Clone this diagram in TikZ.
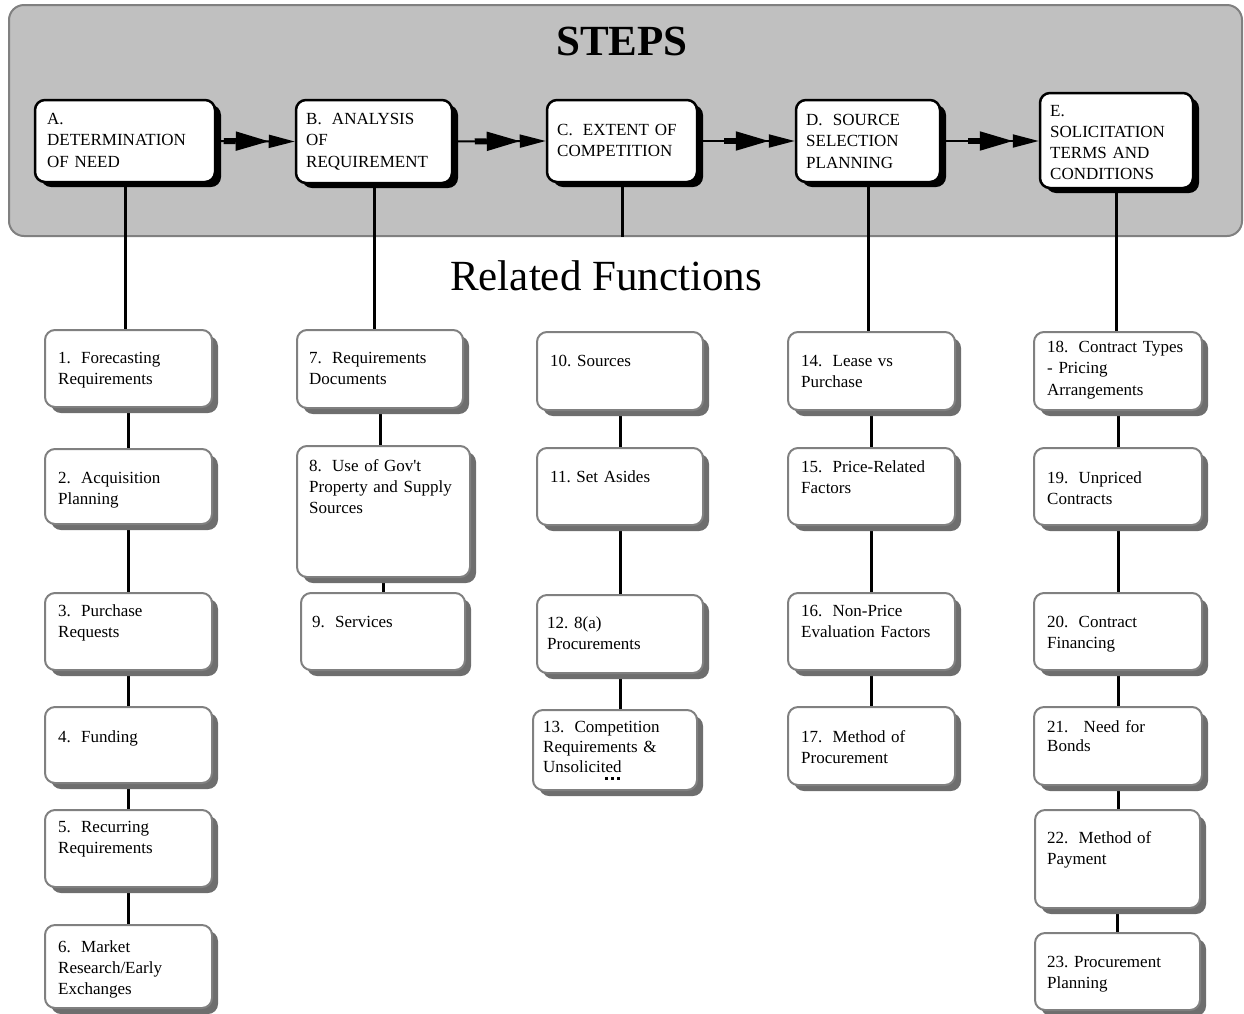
\documentclass[tikz,border=0pt]{standalone}
\usepackage{fontspec}
\setmainfont{Liberation Serif}[Ligatures=TeXOff]
\usetikzlibrary{arrows.meta,shadows,fit}
\definecolor{panelgray}{HTML}{C0C0C0}
\definecolor{edgegray}{HTML}{808080}
\definecolor{shgray}{HTML}{6E6E6E}
\pgfdeclarelayer{panel}
\pgfdeclarelayer{lines}
\pgfsetlayers{panel,lines,main}
\newcommand\gp{\hspace{0.6em}}
\frenchspacing
\begin{document}
\begin{tikzpicture}[x=1pt,y=-1pt,
  panelbox/.style={fill=panelgray,draw=edgegray,line width=2pt,rounded corners=15pt,inner sep=0pt},
  stepbox/.style={draw=black,fill=white,line width=2.5pt,rounded corners=10pt,inner sep=0pt,
    drop shadow={shadow xshift=6pt,shadow yshift=-5pt,fill=black,opacity=1}},
  fnbox/.style={draw=edgegray,fill=white,line width=2pt,rounded corners=10pt,inner sep=0pt,
    drop shadow={shadow xshift=6pt,shadow yshift=-6pt,fill=shgray,opacity=1}},
  lbl/.style={anchor=base west,inner sep=0pt,text width=220pt,align=left,
    font=\fontsize{17}{21.5}\selectfont},
  conn/.style={line width=3pt},
  steparrow/.style={line width=2pt,
    -{Rectangle[length=12pt,width=6pt,sep=0pt] Triangle[length=33pt,width=19pt,sep=0pt] Triangle[length=26pt,width=13pt,sep=0pt]}}
]
\useasboundingbox (0,0) rectangle (1244,1013);

\begin{pgfonlayer}{panel}
  \node[panelbox, fit={(9,5)(1242,236)}] (P) {};
\end{pgfonlayer}

\node[anchor=base,inner sep=0pt,font=\fontsize{43}{50}\selectfont\bfseries] (steps) at (622,55) {STEPS};
\node[anchor=base west,inner sep=0pt,font=\fontsize{43}{50}\selectfont] (rel) at (450,290) {Related Functions};

% step boxes
\node[stepbox, fit={(35,100)(215,182)}] (A) {};
\node[stepbox, fit={(296,100)(452,183)}] (B) {};
\node[stepbox, fit={(547,100)(697,182)}] (C) {};
\node[stepbox, fit={(796,100)(940,182)}] (D) {};
\node[stepbox, fit={(1040,93)(1193,188)}] (E) {};

\node[lbl] (tA) at (47,124) {A.\\DETERMINATION\\OF NEED};
\node[lbl] (tB) at (306,124) {B.\gp ANALYSIS\\OF\\REQUIREMENT};
\node[lbl] (tC) at (557,135) {C.\gp EXTENT OF\\COMPETITION};
\node[lbl] (tD) at (806,125) {D.\gp SOURCE\\SELECTION\\PLANNING};
\node[lbl,font=\fontsize{17}{21}\selectfont] (tE) at (1050,116) {E.\\SOLICITATION\\TERMS AND\\CONDITIONS};

% function boxes
\node[fnbox, fit={(45,330)(212,407)}] (f1) {};
\node[fnbox, fit={(45,449)(212,524)}] (f2) {};
\node[fnbox, fit={(45,593)(212,670)}] (f3) {};
\node[fnbox, fit={(45,707)(212,783)}] (f4) {};
\node[fnbox, fit={(45,810)(212,887)}] (f5) {};
\node[fnbox, fit={(45,925)(212,1008)}] (f6) {};
\node[fnbox, fit={(297,330)(463,408)}] (f7) {};
\node[fnbox, fit={(297,446)(470,577)}] (f8) {};
\node[fnbox, fit={(301,593)(465,670)}] (f9) {};
\node[fnbox, fit={(537,332)(703,410)}] (f10) {};
\node[fnbox, fit={(537,448)(703,525)}] (f11) {};
\node[fnbox, fit={(537,595)(703,673)}] (f12) {};
\node[fnbox, fit={(533,710)(697,790)}] (f13) {};
\node[fnbox, fit={(788,332)(955,410)}] (f14) {};
\node[fnbox, fit={(788,448)(955,525)}] (f15) {};
\node[fnbox, fit={(788,593)(955,670)}] (f16) {};
\node[fnbox, fit={(788,707)(955,785)}] (f17) {};
\node[fnbox, fit={(1034,332)(1202,410)}] (f18) {};
\node[fnbox, fit={(1034,448)(1202,525)}] (f19) {};
\node[fnbox, fit={(1034,593)(1202,670)}] (f20) {};
\node[fnbox, fit={(1034,707)(1202,785)}] (f21) {};
\node[fnbox, fit={(1035,810)(1200,908)}] (f22) {};
\node[fnbox, fit={(1035,933)(1200,1010)}] (f23) {};

\node[lbl] (t1) at (58,363) {1.\gp Forecasting\\Requirements};
\node[lbl] (t2) at (58,483) {2.\gp Acquisition\\Planning};
\node[lbl] (t3) at (58,616) {3.\gp Purchase\\Requests};
\node[lbl] (t4) at (58,742) {4.\gp Funding};
\node[lbl] (t5) at (58,832) {5.\gp Recurring\\Requirements};
\node[lbl,font=\fontsize{17}{21}\selectfont] (t6) at (58,952) {6.\gp Market\\Research/Early\\Exchanges};
\node[lbl] (t7) at (309,363) {7.\gp Requirements\\Documents};
\node[lbl,font=\fontsize{17}{21}\selectfont] (t8) at (309,471) {8.\gp Use of Gov't\\Property and Supply\\Sources};
\node[lbl] (t9) at (312,627) {9.\gp Services};
\node[lbl] (t10) at (550,366) {10. Sources};
\node[lbl] (t11) at (550,482) {11. Set Asides};
\node[lbl] (t12) at (547,628) {12. 8(a)\\Procurements};
\node[lbl,font=\fontsize{17}{20}\selectfont] (t13) at (543,732) {13.\gp Competition\\Requirements \&\\Unsolicited};
\node[lbl] (t14) at (801,366) {14.\gp Lease vs\\Purchase};
\node[lbl] (t15) at (801,472) {15.\gp Price-Related\\Factors};
\node[lbl] (t16) at (801,616) {16.\gp Non-Price\\Evaluation Factors};
\node[lbl] (t17) at (801,742) {17.\gp Method of\\Procurement};
\node[lbl] (t18) at (1047,352) {18.\gp Contract Types\\- Pricing\\Arrangements};
\node[lbl] (t19) at (1047,483) {19.\gp Unpriced\\Contracts};
\node[lbl] (t20) at (1047,627) {20.\gp Contract\\Financing};
\node[lbl,font=\fontsize{17}{19}\selectfont] (t21) at (1047,732) {21.\hspace{0.9em}Need for\\Bonds};
\node[lbl] (t22) at (1047,843) {22.\gp Method of\\Payment};
\node[lbl] (t23) at (1047,967) {23. Procurement\\Planning};

% overflow marks in box 13
\fill (604.5,776.5) rectangle ++(3,3);
\fill (610.5,776.5) rectangle ++(3,3);
\fill (616.5,776.5) rectangle ++(3,3);

\begin{pgfonlayer}{lines}
  \draw[steparrow] (A.east) -- (B.west);
  \draw[steparrow] (B.east) -- (C.west);
  \draw[steparrow] (C.east) -- (D.west);
  \draw[steparrow] (D.east) -- (E.west |- D.east);

  \draw[conn] (A.south) -- (A.south |- f1.north);
  \draw[conn] (B.south) -- (B.south |- f7.north);
  \draw[conn] (C.south) -- (C.south |- P.south);
  \draw[conn] (D.south) -- (D.south |- f14.north);
  \draw[conn] (E.south) -- (E.south |- f18.north);

  \draw[conn] (f1.south) -- (f1.south |- f2.north);
  \draw[conn] (f2.south) -- (f2.south |- f3.north);
  \draw[conn] (f3.south) -- (f3.south |- f4.north);
  \draw[conn] (f4.south) -- (f4.south |- f5.north);
  \draw[conn] (f5.south) -- (f5.south |- f6.north);

  \draw[conn] (f7.south) -- (f7.south |- f8.north);
  \draw[conn] (f8.south) -- (f8.south |- f9.north);

  \draw[conn] (f10.south) -- (f10.south |- f11.north);
  \draw[conn] (f11.south) -- (f11.south |- f12.north);
  \draw[conn] (f12.south) -- (f12.south |- f13.north);

  \draw[conn] (f14.south) -- (f14.south |- f15.north);
  \draw[conn] (f15.south) -- (f15.south |- f16.north);
  \draw[conn] (f16.south) -- (f16.south |- f17.north);

  \draw[conn] (f18.south) -- (f18.south |- f19.north);
  \draw[conn] (f19.south) -- (f19.south |- f20.north);
  \draw[conn] (f20.south) -- (f20.south |- f21.north);
  \draw[conn] (f21.south) -- (f21.south |- f22.north);
  \draw[conn] (f22.south) -- (f22.south |- f23.north);
\end{pgfonlayer}
\end{tikzpicture}
\end{document}
